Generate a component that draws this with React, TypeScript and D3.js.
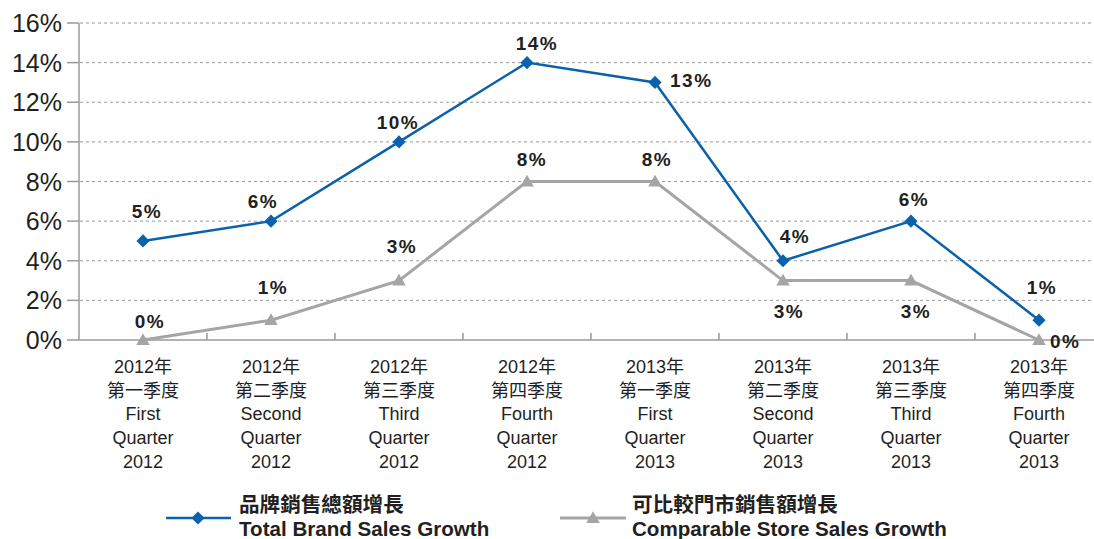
import React from 'react';
import * as d3 from 'd3';

// chart data
const quarters = [
  ['2012年', '第一季度', 'First', 'Quarter', '2012'],
  ['2012年', '第二季度', 'Second', 'Quarter', '2012'],
  ['2012年', '第三季度', 'Third', 'Quarter', '2012'],
  ['2012年', '第四季度', 'Fourth', 'Quarter', '2012'],
  ['2013年', '第一季度', 'First', 'Quarter', '2013'],
  ['2013年', '第二季度', 'Second', 'Quarter', '2013'],
  ['2013年', '第三季度', 'Third', 'Quarter', '2013'],
  ['2013年', '第四季度', 'Fourth', 'Quarter', '2013'],
];
const brandGrowth = [5, 6, 10, 14, 13, 4, 6, 1];
const storeGrowth = [0, 1, 3, 8, 8, 3, 3, 0];
const yTicks = [0, 2, 4, 6, 8, 10, 12, 14, 16];
const brandName = ['品牌銷售總額增長', 'Total Brand Sales Growth'];
const storeName = ['可比較門市銷售額增長', 'Comparable Store Sales Growth'];

// where each value label sits relative to its point [dx, dy, anchor]
const brandLabelPos: [number, number, string][] = [
  [4, -23, 'middle'], [-8, -13, 'middle'], [-1, -13, 'middle'], [10, -13, 'middle'],
  [15, 5, 'start'], [12, -18, 'middle'], [3, -15, 'middle'], [3, -26, 'middle'],
];
const storeLabelPos: [number, number, string][] = [
  [7, -12, 'middle'], [2, -26, 'middle'], [3, -28, 'middle'], [5, -16, 'middle'],
  [2, -16, 'middle'], [6, 37, 'middle'], [5, 37, 'middle'], [11, 8, 'start'],
];

const BLUE = '#0a62ad';
const GRAY = '#a5a5a5';
const TEXT = '#231f20';
const FONT = '"Liberation Sans", Arial, "Noto Sans CJK TC", sans-serif';

const W = 1094;
const H = 539;
const left = 79;
const top = 23;
const bottom = 340;

export default function App() {
  const x = d3.scaleBand<number>()
    .domain(d3.range(quarters.length))
    .range([left, left + 128 * quarters.length]);
  const y = d3.scaleLinear().domain([0, 16]).range([bottom, top]);
  const cx = (i: number) => (x(i) as number) + x.bandwidth() / 2;

  const line = d3.line<number>().x((d, i) => cx(i)).y(d => y(d));
  const diamond = d3.symbol().type(d3.symbolDiamond2).size(110)();
  const triangle = d3.symbol().type(d3.symbolTriangle).size(80)();

  const labelStyle = { fontSize: 19, fontWeight: 700, letterSpacing: 1.5, fill: TEXT };

  return (
    <svg width={W} height={H} style={{ position: 'absolute', left: 0, top: 0, fontFamily: FONT }}>
      <rect width={W} height={H} fill="#fff" />
      {/* gridlines */}
      {yTicks.filter(t => t > 0).map(t => (
        <line key={'g' + t} x1={left + 1} x2={W} y1={y(t)} y2={y(t)}
          stroke="#9a9a9a" strokeWidth={1} strokeDasharray="3,3" />
      ))}
      {/* y axis */}
      <line x1={left} x2={left} y1={top} y2={bottom} stroke="#9a9a9a" strokeWidth={1.5} />
      {yTicks.map(t => (
        <g key={'y' + t}>
          <line x1={left - 12} x2={left} y1={y(t)} y2={y(t)} stroke="#9a9a9a" strokeWidth={1.5} />
          <text x={62} y={y(t) + 9} textAnchor="end" fontSize={25} fill={TEXT}>{t}%</text>
        </g>
      ))}
      {/* x axis */}
      <line x1={left} x2={W} y1={bottom} y2={bottom} stroke="#9a9a9a" strokeWidth={1.5} />
      {quarters.slice(1).map((q, i) => (
        <line key={'xt' + i} x1={x(i + 1)} x2={x(i + 1)} y1={bottom - 7} y2={bottom}
          stroke="#9a9a9a" strokeWidth={1.5} />
      ))}
      {quarters.map((q, i) => (
        <text key={'xl' + i} textAnchor="middle" fontSize={18} fill={TEXT}>
          {q.map((s, j) => (
            <tspan key={j} x={cx(i)} y={373 + j * 23.7}>{s}</tspan>
          ))}
        </text>
      ))}

      {/* series lines */}
      <path d={line(storeGrowth) as string} fill="none" stroke={GRAY} strokeWidth={3} />
      <path d={line(brandGrowth) as string} fill="none" stroke={BLUE} strokeWidth={2.5} />
      {storeGrowth.map((v, i) => (
        <path key={'sm' + i} d={triangle as string} fill={GRAY}
          transform={`translate(${cx(i)},${y(v) + 1})`} />
      ))}
      {brandGrowth.map((v, i) => (
        <path key={'bm' + i} d={diamond as string} fill={BLUE}
          transform={`translate(${cx(i)},${y(v)})`} />
      ))}

      {/* value labels */}
      {storeGrowth.map((v, i) => (
        <text key={'sl' + i} x={cx(i) + storeLabelPos[i][0]} y={y(v) + storeLabelPos[i][1]}
          textAnchor={storeLabelPos[i][2]} {...labelStyle}>{v}%</text>
      ))}
      {brandGrowth.map((v, i) => (
        <text key={'bl' + i} x={cx(i) + brandLabelPos[i][0]} y={y(v) + brandLabelPos[i][1]}
          textAnchor={brandLabelPos[i][2]} {...labelStyle}>{v}%</text>
      ))}

      {/* legend */}
      <g>
        <line x1={166} x2={231} y1={518} y2={518} stroke={BLUE} strokeWidth={2.5} />
        <path d={diamond as string} fill={BLUE} transform="translate(198,518)" />
        <text x={239} y={512} fontSize={20.6} fontWeight={700} fill={TEXT}>{brandName[0]}</text>
        <text x={239} y={536} fontSize={20.6} fontWeight={700} fill={TEXT}>{brandName[1]}</text>
        <line x1={560} x2={626} y1={518} y2={518} stroke={GRAY} strokeWidth={3} />
        <path d={triangle as string} fill={GRAY} transform="translate(593,519)" />
        <text x={632} y={512} fontSize={20.6} fontWeight={700} fill={TEXT}>{storeName[0]}</text>
        <text x={632} y={536} fontSize={20.6} fontWeight={700} fill={TEXT}>{storeName[1]}</text>
      </g>
    </svg>
  );
}
